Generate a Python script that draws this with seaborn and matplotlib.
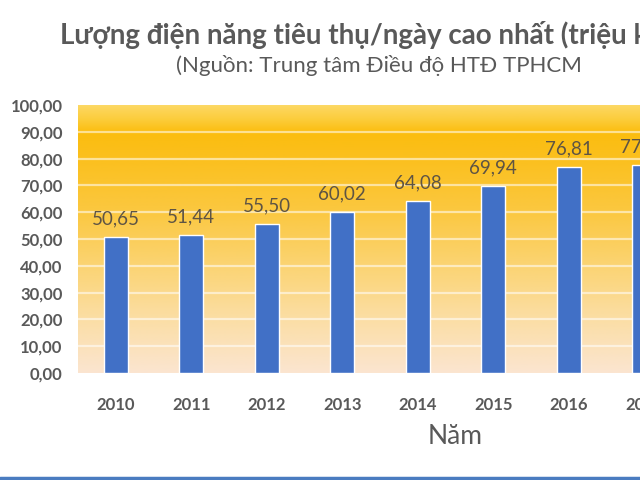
import numpy as np
import pandas as pd
import matplotlib
matplotlib.use("Agg")
import matplotlib.pyplot as plt
from matplotlib.colors import LinearSegmentedColormap
from matplotlib.lines import Line2D
import seaborn as sns

years = ["2010", "2011", "2012", "2013", "2014", "2015", "2016", "2017"]
values = [50.65, 51.44, 55.50, 60.02, 64.08, 69.94, 76.81, 77.62]
y_ticks = [0, 10, 20, 30, 40, 50, 60, 70, 80, 90, 100]
title = "Lượng điện năng tiêu thụ/ngày cao nhất (triệu kWh)"
subtitle = "(Nguồn: Trung tâm Điều độ HTĐ TPHCM"
xlabel = "Năm"

sns.set_theme(style="white")
plt.rcParams['font.family'] = ['Lato', 'DejaVu Sans']

df = pd.DataFrame({"year": years, "value": values})

W, H = 640, 480
fig = plt.figure(figsize=(6.4, 4.8), dpi=100)
left, right, top, bottom = 78, 682, 105, 373
ax = fig.add_axes([left / W, 1 - bottom / H, (right - left) / W, (bottom - top) / H])

# gradient background
stops = [(0.0, (251/255, 229/255, 208/255)),
         (0.2, (251/255, 222/255, 165/255)),
         (0.4, (251/255, 212/255, 115/255)),
         (0.6, (251/255, 200/255, 65/255)),
         (0.8, (251/255, 192/255, 30/255)),
         (0.9, (251/255, 189/255, 15/255)),
         (0.95, (252/255, 205/255, 60/255)),
         (1.0, (252/255, 216/255, 100/255))]
cmap = LinearSegmentedColormap.from_list("bg", stops)
grad = np.linspace(1, 0, 256).reshape(-1, 1)
ax.imshow(grad, cmap=cmap, aspect="auto", extent=[-0.5, len(years) - 0.5, 0, 100],
          zorder=0, vmin=0, vmax=1)

for t in y_ticks[1:-1]:
    ax.axhline(t, color=(1, 1, 1, 0.55), linewidth=1.6, zorder=1)

sns.barplot(data=df, x="year", y="value", color="#4170C6", width=0.32,
            saturation=1, ax=ax, zorder=3)

ax.set_xlim(-0.5, len(years) - 0.5)
ax.set_ylim(0, 100)
ax.set_yticks(y_ticks)
ax.set_yticklabels([f"{t:.2f}".replace(".", ",") for t in y_ticks],
                   fontsize=12, fontweight="bold", color="#595959")
ax.tick_params(axis="y", pad=11, length=0)
ax.tick_params(axis="x", pad=17, length=0)
for lab in ax.get_xticklabels():
    lab.set_fontsize(12)
    lab.set_fontweight("bold")
    lab.set_color("#595959")
ax.set_xlabel("")
ax.set_ylabel("")
for s in ax.spines.values():
    s.set_visible(False)

for i, v in enumerate(values):
    ax.annotate(f"{v:.2f}".replace(".", ","), (i, v), xytext=(0, 13),
                textcoords="offset points", ha="center", va="center",
                fontsize=13.5, color="#5E5444", zorder=4)

fig.text(60 / W, 1 - 35 / H, title, ha="left", va="center", fontsize=20,
         fontweight="bold", color="#595959")
fig.text(176 / W, 1 - 65 / H, subtitle, ha="left", va="center", fontsize=16,
         color="#595959")
fig.text(455 / W, 1 - 437 / H, xlabel, ha="center", va="center", fontsize=19,
         color="#595959")

fig.add_artist(Line2D([0, 1], [1 - 478 / H, 1 - 478 / H], transform=fig.transFigure,
                      color="#4A7CC0", linewidth=2.5))

fig.savefig("out.png", dpi=100)
